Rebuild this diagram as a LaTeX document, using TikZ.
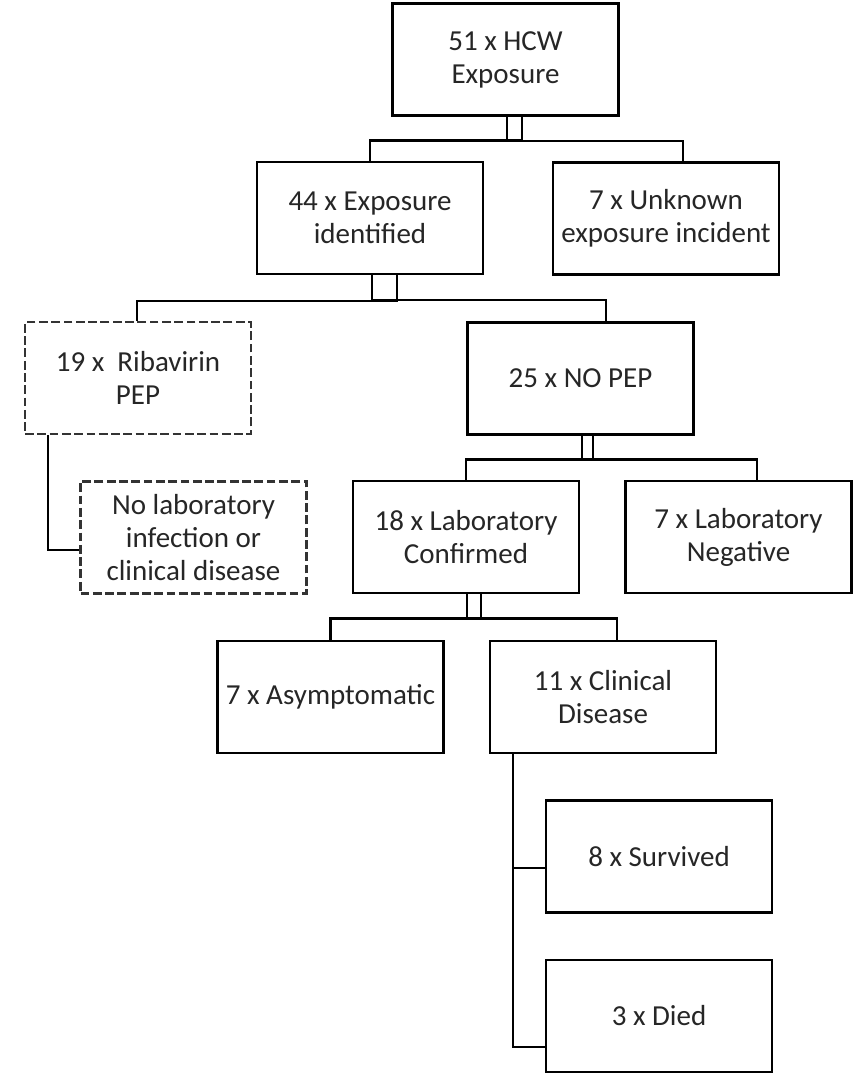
\documentclass[tikz,border=0pt]{standalone}
\usepackage{fontspec}
\setmainfont{Carlito}
\usepackage{tikz}
\usetikzlibrary{calc}

\begin{document}
\begin{tikzpicture}[x=0.02cm, y=-0.02cm,
        box/.style={draw, line width=1.6pt, minimum width=4.52cm, minimum height=2.24cm,
            inner sep=2pt, align=center, text=black!85,
            font=\fontsize{16.5}{18.8}\selectfont},
        dashedbox/.style={box, draw=black!80, line width=1.5pt, dash pattern=on 5pt off 2pt},
        link/.style={line width=1.3pt}]
        \useasboundingbox (0,0) rectangle (865,1074);

        % Top of the tree
        \node[box] (hcw) at (505.5,59.5) {51 x HCW\\Exposure};
        \node[box] (expo) at (370,218) {44 x Exposure\\identified};
        \node[box] (unknown) at (666,218.5) {7 x Unknown\\exposure incident};

        % PEP split
        \node[dashedbox] (riba) at (138,378) {19 x\ \ Ribavirin\\PEP};
        \node[box] (nopep) at (580.5,378.5) {25 x NO PEP};
        \node[dashedbox] (nolab) at (193.5,537.5) {No laboratory\\infection or\\clinical disease};

        % Laboratory results
        \node[box] (confirmed) at (466,537) {18 x Laboratory\\Confirmed};
        \node[box] (negative) at (738.5,537) {7 x Laboratory\\Negative};

        % Outcomes
        \node[box] (asym) at (330.5,697) {7 x Asymptomatic};
        \node[box] (clinical) at (603,697) {11 x Clinical\\Disease};
        \node[box] (survived) at (659,856.5) {8 x Survived};
        \node[box] (died) at (659,1016) {3 x Died};

        % Elbow connectors (each child gets its own line from the parent, so they cross at the bus)
        \draw[link] ($(hcw.south)+(16.5,0)$) |- ($(expo.north)+(0,-20)$) -- (expo.north);
        \draw[link] ($(hcw.south)+(1.5,0)$) |- ($(unknown.north)+(17,-20)$) -- ($(unknown.north)+(17,0)$);

        \draw[link] ($(expo.south)+(27,0)$) |- ($(riba.north)+(-1,-20)$) -- ($(riba.north)+(-1,0)$);
        \draw[link] ($(expo.south)+(2,0)$) |- ($(nopep.north)+(25.5,-21)$) -- ($(nopep.north)+(25.5,0)$);

        \draw[link] ($(riba.south)+(-90,0)$) |- ($(nolab.west)+(0,12.5)$);

        \draw[link] ($(nopep.south)+(12.5,0)$) |- ($(confirmed.north)+(0,-20)$) -- (confirmed.north);
        \draw[link] ($(nopep.south)+(1.5,0)$) |- ($(negative.north)+(18.5,-20)$) -- ($(negative.north)+(18.5,0)$);

        \draw[link] ($(confirmed.south)+(15,0)$) |- ($(asym.north)+(0,-21)$) -- (asym.north);
        \draw[link] ($(confirmed.south)+(1,0)$) |- ($(clinical.north)+(14,-21)$) -- ($(clinical.north)+(14,0)$);

        \draw[link] ($(clinical.south)+(-90,0)$) |- ($(survived.west)+(0,11.5)$);
        \draw[link] ($(clinical.south)+(-90,0)$) |- ($(died.west)+(0,31)$);
    \end{tikzpicture}
\end{document}
